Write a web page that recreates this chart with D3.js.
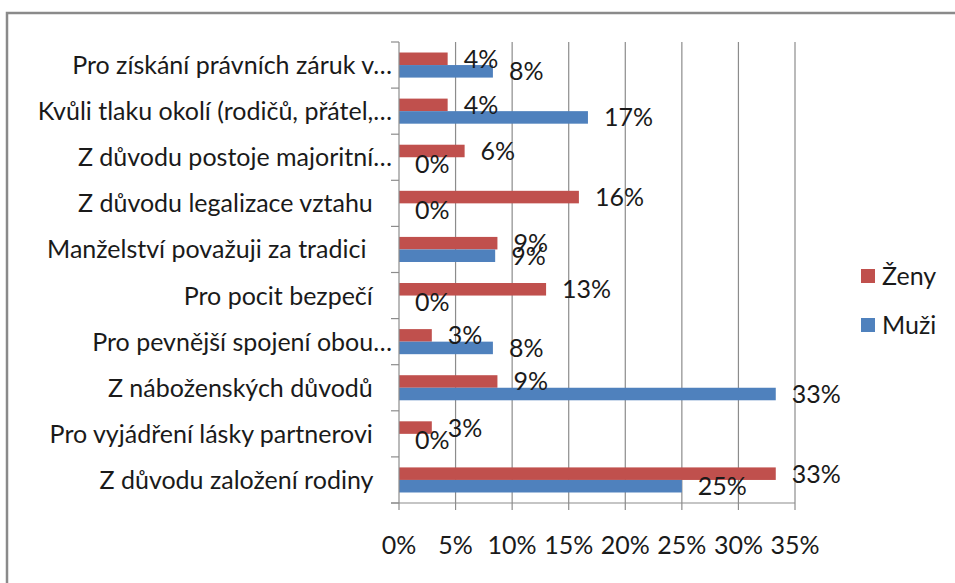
<!DOCTYPE html>
<html>
<head>
<meta charset="utf-8">
<script src="https://cdn.jsdelivr.net/npm/d3@7"></script>
<style>
  body { margin: 0; background: #fff; }
  text { font-family: Lato, "Open Sans", sans-serif; fill: #1a1a1a; }
</style>
</head>
<body>
<div id="chart"></div>
<script>
var width = 955;
var height = 583;

// categories top to bottom (trailing spaces kept as in the original labels)
var categories = [
  "Pro získání právních záruk v…",
  "Kvůli tlaku okolí (rodičů, přátel,…",
  "Z důvodu postoje majoritní…",
  "Z důvodu legalizace vztahu   ",
  "Manželství považuji za tradici    ",
  "Pro pocit bezpečí   ",
  "Pro pevnější spojení obou…",
  "Z náboženských důvodů   ",
  "Pro vyjádření lásky partnerovi   ",
  "Z důvodu založení rodiny   "
];
var series = ["Ženy", "Muži"];
var zeny = [4.3, 4.3, 5.8, 15.9, 8.7, 13.0, 2.9, 8.7, 2.9, 33.3];
var muzi = [8.3, 16.7, 0, 0, 8.5, 0, 8.3, 33.3, 0, 25.0];
var xTicks = [0, 5, 10, 15, 20, 25, 30, 35];
var colors = ["#C0504D", "#4F81BD"];

var plot = { left: 399, right: 795, top: 42, bottom: 503 };
var fontSize = "25px";

const svg = d3
  .select("#chart")
  .append("svg")
  .attr("width", width)
  .attr("height", height);

// outer chart border (only top and left are in frame)
svg
  .append("rect")
  .attr("x", 7)
  .attr("y", 13)
  .attr("width", 1000)
  .attr("height", 700)
  .attr("fill", "none")
  .attr("stroke", "#8a8a8a")
  .attr("stroke-width", 2.5);

const xScale = d3.scaleLinear().domain([0, 35]).range([plot.left, plot.right]);

const yScale = d3
  .scaleBand()
  .domain(categories)
  .range([plot.top, plot.bottom])
  .paddingInner(0.456)
  .paddingOuter(0.228);

const ySub = d3.scaleBand().domain(series).range([0, yScale.bandwidth()]);

// vertical gridlines
svg
  .append("g")
  .selectAll("line")
  .data(xTicks.slice(1))
  .enter()
  .append("line")
  .attr("x1", (d) => xScale(d))
  .attr("x2", (d) => xScale(d))
  .attr("y1", plot.top)
  .attr("y2", plot.bottom)
  .attr("stroke", "#8c8c8c")
  .attr("stroke-width", 1.2);

// bars
var rows = categories.map((c, i) => ({ cat: c, values: [zeny[i], muzi[i]] }));

const groups = svg
  .selectAll(".group")
  .data(rows)
  .enter()
  .append("g")
  .attr("class", "group")
  .attr("transform", (d) => `translate(0,${yScale(d.cat)})`);

groups
  .selectAll("rect")
  .data((d) => d.values.map((v, j) => ({ key: series[j], v: v, j: j })))
  .enter()
  .append("rect")
  .attr("x", xScale(0))
  .attr("y", (d) => ySub(d.key))
  .attr("width", (d) => xScale(d.v) - xScale(0))
  .attr("height", ySub.bandwidth())
  .attr("fill", (d) => colors[d.j]);

// value labels
groups
  .selectAll(".val")
  .data((d) => d.values.map((v, j) => ({ key: series[j], v: v, j: j })))
  .enter()
  .append("text")
  .attr("class", "val")
  .attr("x", (d) => xScale(d.v) + 16)
  .attr("y", (d) => ySub(d.key) + ySub.bandwidth() / 2)
  .attr("dy", "0.36em")
  .style("font-size", fontSize)
  .text((d) => Math.round(d.v) + "%");

// y axis
const yAxis = svg
  .append("g")
  .attr("transform", `translate(${plot.left},0)`);

yAxis
  .append("line")
  .attr("x1", 0)
  .attr("x2", 0)
  .attr("y1", plot.top)
  .attr("y2", plot.bottom)
  .attr("stroke", "#8c8c8c")
  .attr("stroke-width", 1.2);

var step = (plot.bottom - plot.top) / categories.length;
yAxis
  .selectAll(".ytick")
  .data(d3.range(categories.length + 1))
  .enter()
  .append("line")
  .attr("x1", -8)
  .attr("x2", 0)
  .attr("y1", (d) => plot.top + d * step)
  .attr("y2", (d) => plot.top + d * step)
  .attr("stroke", "#8c8c8c")
  .attr("stroke-width", 1.2);

yAxis
  .selectAll(".ylab")
  .data(categories)
  .enter()
  .append("text")
  .attr("x", -7)
  .attr("y", (d) => yScale(d) + yScale.bandwidth() / 2)
  .attr("dy", "0.36em")
  .style("text-anchor", "end")
  .style("white-space", "pre")
  .style("font-size", fontSize)
  .text((d) => d);

// x axis
const xAxis = svg
  .append("g")
  .attr("transform", `translate(0,${plot.bottom})`);

xAxis
  .append("line")
  .attr("x1", plot.left - 8)
  .attr("x2", plot.right)
  .attr("stroke", "#8c8c8c")
  .attr("stroke-width", 1.2);

xAxis
  .selectAll(".xtick")
  .data(xTicks)
  .enter()
  .append("line")
  .attr("x1", (d) => xScale(d))
  .attr("x2", (d) => xScale(d))
  .attr("y1", 0)
  .attr("y2", 7)
  .attr("stroke", "#8c8c8c")
  .attr("stroke-width", 1.2);

xAxis
  .selectAll(".xlab")
  .data(xTicks)
  .enter()
  .append("text")
  .attr("x", (d) => xScale(d))
  .attr("y", 42)
  .attr("dy", "0.36em")
  .style("text-anchor", "middle")
  .style("font-size", fontSize)
  .text((d) => d + "%");

// legend
const legend = svg
  .selectAll(".legend")
  .data(series)
  .enter()
  .append("g")
  .attr("class", "legend")
  .attr("transform", (d, i) => `translate(861,${269 + i * 49})`);

legend
  .append("rect")
  .attr("width", 14)
  .attr("height", 14)
  .attr("fill", (d, i) => colors[i]);

legend
  .append("text")
  .attr("x", 21)
  .attr("y", 7)
  .attr("dy", "0.36em")
  .style("font-size", fontSize)
  .text((d) => d);
</script>
</body>
</html>
